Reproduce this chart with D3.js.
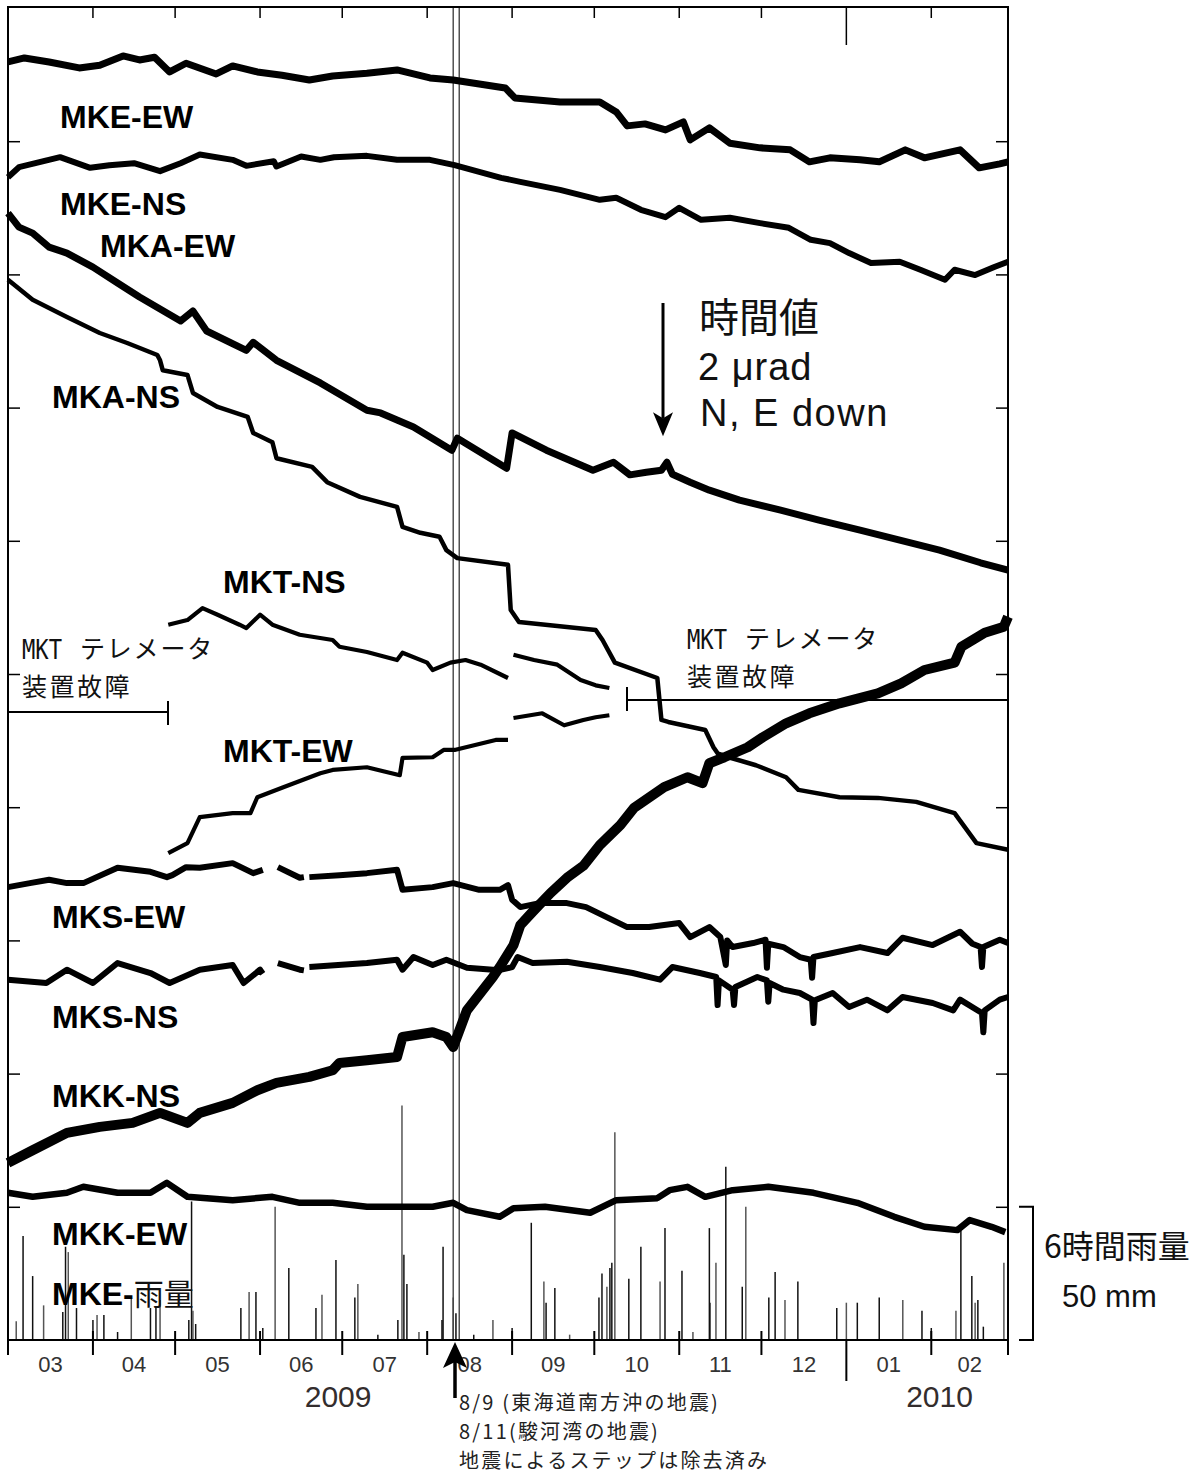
<!doctype html>
<html lang="ja">
<head>
  <meta charset="utf-8">
  <title>傾斜計 時間値 2009-2010</title>
  <script src="https://d3js.org/d3.v7.min.js"></script>
  <style>
    body { margin: 0px; background: #ffffff; }
    text { font-family: "Liberation Sans", Arial, sans-serif; fill: #111; }
    .jp { font-family: "Noto Sans CJK JP", sans-serif; }
    .lbl { font-weight: bold; font-size: 32px; fill: #000; }
    .trace { fill: none; stroke: #000; stroke-linejoin: round; stroke-linecap: butt; }
  </style>
</head>
<body>
<div id="chart"></div>
<script>
// days since 2009-03-01, tilt in micro-radian (figure offsets included)
const mkeEW = [[0,19.19],[6,19.25],[15,19.19],[26,19.10],[33.5,19.14],[42,19.28],[48,19.22],[53.5,19.26],[59,19.04],[65,19.17],[76,19.01],[82,19.13],[91,19.04],[100,18.99],[110,18.92],[118.5,18.98],[131,19.02],[142,19.07],[154,18.95],[162.5,18.92],[172,18.86],[181.5,18.80],[185,18.65],[201.5,18.59],[216,18.59],[222,18.44],[226,18.23],[232.5,18.26],[240,18.17],[246.5,18.29],[249,18.02],[256,18.20],[263.5,17.97],[274.5,17.90],[285.5,17.87],[292.5,17.69],[300,17.75],[311,17.72],[318,17.69],[327.5,17.87],[334.5,17.75],[347.5,17.87],[354.5,17.60],[362,17.66],[365,17.69]];
const mkeNS = [[0,17.46],[4,17.61],[19,17.76],[30,17.60],[37,17.64],[46,17.67],[55.5,17.55],[63,17.67],[70,17.80],[82,17.72],[87,17.63],[97,17.70],[98,17.62],[107,17.77],[114,17.72],[119,17.76],[131,17.78],[142,17.72],[154,17.72],[163,17.64],[172,17.54],[180,17.45],[187,17.39],[201.5,17.27],[216,17.12],[222,17.15],[231,16.97],[240,16.86],[245,17.00],[253,16.82],[263.5,16.85],[274.5,16.77],[285,16.70],[293,16.52],[300,16.47],[307,16.32],[315,16.17],[325.5,16.19],[333,16.07],[342,15.92],[345.5,16.07],[353,15.99],[360,16.11],[365,16.19]];
const mkaEW = [[0,16.92],[4,16.71],[9,16.62],[15,16.41],[21.5,16.32],[31,16.11],[40,15.87],[48,15.66],[63,15.30],[67.5,15.45],[72.5,15.15],[87,14.86],[89.5,14.98],[98,14.71],[114,14.37],[131,13.96],[136,13.92],[148,13.71],[162,13.36],[164,13.54],[182,13.09],[184,13.62],[196.5,13.36],[205,13.21],[213.5,13.06],[221,13.18],[227,12.99],[233,13.03],[238.5,13.06],[240.5,13.18],[242.5,13.00],[249,12.88],[256,12.76],[267,12.61],[282,12.46],[296,12.31],[311,12.16],[325.5,12.01],[340,11.86],[355,11.67],[365,11.56]];
const mkaNS = [[0,15.92],[9,15.62],[21.5,15.36],[33.5,15.12],[43.5,14.97],[54.5,14.79],[55.5,14.71],[56.5,14.56],[65.5,14.49],[67.5,14.22],[76.5,14.01],[87.5,13.86],[89.5,13.62],[96.5,13.48],[98,13.24],[111,13.11],[116.5,12.88],[128.5,12.66],[142,12.51],[144,12.21],[150.5,12.12],[157.5,12.06],[160,11.86],[164,11.74],[182.5,11.64],[183.5,10.96],[186.5,10.78],[214.5,10.66],[217,10.51],[221.5,10.17],[237,9.94],[238.5,9.31],[241,9.28],[254.5,9.16],[257.5,8.90],[259,8.81],[263,8.75],[273,8.63],[284,8.45],[288.5,8.26],[303.5,8.15],[317.5,8.14],[331.5,8.08],[345.5,7.91],[353.5,7.46],[365,7.36]];
const mktNS = [[58.5,10.74],[65.5,10.81],[71,10.99],[76.5,10.89],[84.5,10.74],[87,10.69],[92,10.89],[96.5,10.74],[106.5,10.59],[118.5,10.51],[121,10.41],[131,10.33],[142,10.21],[144,10.32],[153,10.17],[155,10.06],[161.5,10.17],[167,10.21],[172.5,10.14],[182.5,9.94],[183.5,null],[184.5,10.29],[192,10.21],[200.5,10.14],[209,9.91],[214.5,9.83],[219.5,9.79]];
const mktEW = [[58.5,7.31],[65.5,7.46],[70,7.85],[82,7.91],[88.5,7.91],[91,8.15],[100.5,8.30],[114,8.51],[118.5,8.56],[131,8.60],[143,8.48],[144,8.74],[155,8.75],[159,8.86],[163,8.86],[178,9.01],[182.5,9.01],[183.5,null],[184.5,9.34],[195,9.41],[203,9.23],[210,9.31],[214.5,9.35],[219.5,9.38]];
const mksEW = [[0,6.80],[8,6.86],[15,6.91],[21.5,6.86],[27.5,6.86],[40,7.09],[52,7.03],[58,6.95],[60,6.98],[65,7.10],[70,7.09],[82,7.16],[89.5,7.01],[93,7.06],[93.5,null],[98.5,7.10],[106.5,6.94],[108,6.95],[108.5,null],[110,6.95],[121,6.98],[131,7.01],[142,7.06],[144,6.76],[155,6.80],[162.5,6.86],[172,6.76],[179.5,6.76],[182.5,6.83],[184,6.61],[187,6.50],[194,6.56],[204,6.56],[211,6.50],[218.5,6.35],[226,6.20],[234,6.20],[245,6.26],[249,6.05],[256,6.20],[260,6.05],[262,5.63],[262.5,6.00],[264.5,5.90],[272,5.96],[276.5,6.01],[277,5.59],[277.5,5.95],[283,5.90],[289,5.75],[293,5.71],[293.5,5.44],[294,5.75],[301,5.81],[311,5.90],[321,5.81],[326.5,6.04],[337.5,5.93],[347.5,6.13],[352,5.95],[355,5.90],[355.5,5.60],[356,5.90],[362,6.01],[365,5.96]];
const mksNS = [[0,5.41],[14,5.36],[21.5,5.56],[31,5.36],[40,5.66],[52,5.51],[59,5.36],[70,5.56],[82,5.63],[86,5.36],[92,5.56],[93,5.50],[93.5,null],[98.5,5.66],[106.5,5.56],[108,5.55],[108.5,null],[110,5.60],[131,5.66],[142,5.71],[144,5.56],[148,5.75],[155,5.63],[160,5.71],[167.5,5.59],[177,5.56],[180,5.56],[184,5.60],[186,5.75],[191.5,5.66],[204,5.68],[216,5.60],[228,5.51],[238,5.41],[242.5,5.60],[252.5,5.51],[258.5,5.45],[259,5.03],[259.5,5.40],[264.5,5.26],[265,5.03],[265.5,5.30],[273.5,5.45],[277,5.40],[277.5,5.08],[278,5.36],[283,5.26],[289,5.21],[293.5,5.11],[294,4.76],[294.5,5.10],[301,5.21],[307,5.00],[313.5,5.11],[321,4.95],[326.5,5.15],[337.5,5.06],[345,4.95],[347.5,5.11],[355.5,4.91],[356,4.62],[356.5,4.95],[362,5.11],[365,5.15]];
const mkkNS = [[0,2.66],[9,2.85],[21.5,3.11],[33.5,3.20],[45.5,3.26],[55.5,3.41],[65.5,3.26],[70,3.41],[82,3.56],[91,3.75],[98,3.86],[110,3.95],[118.5,4.05],[121,4.16],[131,4.20],[142,4.25],[144,4.55],[155,4.62],[160,4.55],[162.5,4.40],[167.5,4.95],[177,5.45],[179.5,5.60],[184.5,5.93],[187,6.23],[191.5,6.43],[198,6.71],[204,6.94],[210,7.12],[216,7.43],[223.5,7.73],[228.5,7.99],[239.5,8.30],[248,8.45],[253.5,8.36],[256,8.66],[261.5,8.75],[270,8.90],[275.5,9.05],[284,9.26],[292.5,9.41],[303.5,9.56],[317.5,9.71],[326,9.86],[334.5,10.06],[345.5,10.17],[348,10.41],[356.5,10.62],[363.5,10.71],[365,10.86]];
const mkkEW = [[0,2.21],[9,2.15],[21.5,2.21],[27.5,2.30],[40,2.21],[52,2.21],[58,2.36],[65.5,2.15],[82,2.10],[96.5,2.15],[106.5,2.06],[118.5,2.06],[131,2.00],[143,2.00],[155,2.00],[162.5,2.06],[167.5,1.95],[179.5,1.85],[184.5,1.98],[196,2.00],[212.5,1.91],[222,2.10],[237,2.13],[241.5,2.25],[248,2.30],[254.5,2.15],[264.5,2.25],[277.5,2.30],[294,2.21],[310,2.06],[323.5,1.85],[334.5,1.70],[346.5,1.65],[351,1.80],[359,1.70],[364,1.62]];
// 6-hour rainfall at MKE, [day, mm]
const rain = [[0,2],[3,7],[5.5,39],[9,24],[13,13],[20,10.5],[21,35],[22,33],[25,12],[31,7.5],[32.5,9.4],[35,9.4],[40,3],[45,16],[52,12],[54,12],[55.5,15],[66,7.5],[67,52],[67.5,11],[68.5,6],[85,12],[88,18],[90.5,18],[93,4.5],[97.5,50],[102.5,27],[112.4,12],[114.6,17],[119.7,30],[126.6,16],[127.7,21],[135,2],[142.3,7.5],[143.8,88],[144.5,32],[145.6,21],[150,3],[158.4,7.5],[158.8,35],[162.5,16],[163.5,10],[170,2],[177,7.5],[184,4.5],[191,44],[195.6,22],[196.4,14],[199.6,19.5],[205,2],[215.7,16],[216.8,25],[218.6,20],[219.7,27],[220.4,29],[221.5,78],[226.6,23],[231,35],[238,22],[239.8,42],[246,26],[250,3],[256,42],[256.2,14],[258.4,29],[262,65],[268,20],[269.3,50],[277.7,16],[280,25.5],[283.6,15],[288.3,22],[302.5,12],[306,14],[310,14],[318,16],[326.6,15],[333.6,11],[337,4.5],[346,11],[347.8,41],[351.8,24],[353,14],[354,15],[356,5],[363.5,29]];

const monthLabels = ["03","04","05","06","07","08","09","10","11","12","01","02"];
const yearLabels = ["2009", "2010"];
const tiltTicks = [2,4,6,8,10,12,14,16,18];
const quakeDays = [162.5, 164.7];

const series = [
  {name: "MKE-EW", data: mkeEW}, {name: "MKE-NS", data: mkeNS},
  {name: "MKA-EW", data: mkaEW}, {name: "MKA-NS", data: mkaNS},
  {name: "MKT-NS", data: mktNS}, {name: "MKT-EW", data: mktEW},
  {name: "MKS-EW", data: mksEW}, {name: "MKS-NS", data: mksNS},
  {name: "MKK-NS", data: mkkNS}, {name: "MKK-EW", data: mkkEW}
];

// layout
const W = 1204, H = 1474;
const xL = 8, xR = 1008, yT = 7, yB = 1340;
const strokeW = {"MKE-EW": 7, "MKE-NS": 6, "MKA-EW": 7, "MKA-NS": 4.5, "MKT-NS": 4.2, "MKT-EW": 4.2,
                 "MKS-EW": 6, "MKS-NS": 6, "MKK-NS": 10, "MKK-EW": 6.5};
const labelAt = {"MKE-EW": [60,128], "MKE-NS": [60,215], "MKA-EW": [100,257], "MKA-NS": [52,408],
                 "MKT-NS": [223,593], "MKT-EW": [223,762], "MKS-EW": [52,928], "MKS-NS": [52,1028],
                 "MKK-NS": [52,1107], "MKK-EW": [52,1245]};
const yearAt = [120.5, 340];

const t0 = Date.UTC(2009, 2, 1);
const toDate = d => new Date(t0 + d * 864e5);

var x = d3.scaleUtc()
    .domain([toDate(0), toDate(365)])
    .range([xL, xR]);

var y = d3.scaleLinear()
    .domain([0, 20])
    .range([yB, yT + 1]);

var yRain = d3.scaleLinear()
    .domain([0, 50])
    .range([yB, yB - (y(0) - y(2))]);

var svg = d3.select('#chart').append('svg')
    .attr('width', W)
    .attr('height', H)
    .style('background', '#fff');

// rain bars
svg.append('g')
    .selectAll('line')
    .data(rain)
    .enter()
    .append('line')
        .attr('x1', d => x(toDate(d[0])))
        .attr('x2', d => x(toDate(d[0])))
        .attr('y1', yRain(0))
        .attr('y2', d => yRain(d[1]))
        .attr('stroke', (d, i) => i % 3 == 1 ? '#555' : '#111')
        .attr('stroke-width', 1.5);

// earthquake double line
svg.append('g')
    .selectAll('line')
    .data(quakeDays)
    .enter()
    .append('line')
        .attr('x1', d => x(toDate(d)))
        .attr('x2', d => x(toDate(d)))
        .attr('y1', yT)
        .attr('y2', yB)
        .attr('stroke', '#444')
        .attr('stroke-width', 1.4);

// tilt traces
var line = d3.line()
    .defined(d => d[1] != null)
    .x(d => x(toDate(d[0])))
    .y(d => y(d[1]));

svg.append('g')
    .selectAll('path')
    .data(series)
    .enter()
    .append('path')
        .attr('class', 'trace')
        .attr('d', d => line(d.data))
        .attr('stroke-width', d => strokeW[d.name]);

// frame
svg.append('path')
    .attr('d', `M${xL},${yB}V${yT}H${xR}V${yB}H${xL}`)
    .attr('stroke', '#000')
    .attr('stroke-width', 2)
    .attr('fill', 'none');

// tilt ticks, left and right, pointing inward
svg.append('g')
    .attr('transform', `translate(${xL},0)`)
    .call(d3.axisRight(y).tickValues(tiltTicks).tickSize(12).tickFormat(''))
    .call(g => g.select('.domain').remove());
svg.append('g')
    .attr('transform', `translate(${xR},0)`)
    .call(d3.axisLeft(y).tickValues(tiltTicks).tickSize(12).tickFormat(''))
    .call(g => g.select('.domain').remove());
svg.selectAll('.tick line').attr('stroke', '#000').attr('stroke-width', 1.5);

// month ticks top and bottom
var months = d3.utcMonth.range(toDate(0), toDate(366));
var isJan = d => d.getUTCMonth() == 0;

svg.append('g')
    .selectAll('line')
    .data(months)
    .enter()
    .append('line')
        .attr('x1', d => x(d)).attr('x2', d => x(d))
        .attr('y1', yT)
        .attr('y2', d => isJan(d) ? yT + 38 : yT + 11)
        .attr('stroke', '#000').attr('stroke-width', 1.5);

svg.append('g')
    .selectAll('line')
    .data(months)
    .enter()
    .append('line')
        .attr('x1', d => x(d)).attr('x2', d => x(d))
        .attr('y1', d => isJan(d) ? yB : yB - 9)
        .attr('y2', d => isJan(d) ? yB + 41 : yB + 15)
        .attr('stroke', '#000').attr('stroke-width', 2);

svg.append('g')
    .selectAll('text')
    .data(monthLabels)
    .enter()
    .append('text')
        .attr('x', (d, i) => (x(months[i]) + x(months[i + 1])) / 2)
        .attr('y', 1372)
        .attr('text-anchor', 'middle')
        .style('font-size', '22px')
        .style('fill', '#333')
        .text(d => d);

svg.append('g')
    .selectAll('text')
    .data(yearLabels)
    .enter()
    .append('text')
        .attr('x', (d, i) => x(toDate(yearAt[i])))
        .attr('y', 1407)
        .attr('text-anchor', 'middle')
        .style('font-size', '30px')
        .style('fill', '#332d2d')
        .text(d => d);

// station labels
svg.append('g')
    .selectAll('text')
    .data(series)
    .enter()
    .append('text')
        .attr('class', 'lbl')
        .attr('x', d => labelAt[d.name][0])
        .attr('y', d => labelAt[d.name][1])
        .text(d => d.name);

var rainLbl = svg.append('text').attr('x', 52).attr('y', 1305);
rainLbl.append('tspan').attr('class', 'lbl').text('MKE-');
rainLbl.append('tspan').attr('class', 'jp').style('font-size', '30px').text('雨量');

// scale arrow: 2 micro-radian
var ax = 663, ay = 303, alen = y(0) - y(2);
svg.append('line')
    .attr('x1', ax).attr('x2', ax)
    .attr('y1', ay).attr('y2', ay + alen - 18)
    .attr('stroke', '#000').attr('stroke-width', 3);
svg.append('path')
    .attr('d', `M${ax},${ay + alen}L${ax - 10},${ay + alen - 24}L${ax},${ay + alen - 18}L${ax + 10},${ay + alen - 24}Z`)
    .attr('fill', '#000');

var scaleTxt = svg.append('text');
scaleTxt.append('tspan').attr('class', 'jp').attr('x', 699).attr('y', 332)
    .style('font-size', '40px').text('時間値');
scaleTxt.append('tspan').attr('x', 698).attr('y', 380)
    .style('font-size', '38px').style('letter-spacing', '1px').text('2 μrad');
scaleTxt.append('tspan').attr('x', 700).attr('y', 426)
    .style('font-size', '38px').style('letter-spacing', '1.5px').text('N, E down');

// telemetry outage notes
function outage(tx, ty1, ty2) {
    var t = svg.append('text');
    t.append('tspan').attr('x', tx).attr('y', ty1)
        .attr('textLength', 40).attr('lengthAdjust', 'spacingAndGlyphs')
        .style('font-family', '"DejaVu Sans Mono", monospace')
        .style('font-size', '27px')
        .text('MKT');
    t.append('tspan').attr('class', 'jp').attr('x', tx + 58).attr('y', ty1 - 1)
        .style('font-size', '25px').style('letter-spacing', '1.8px').text('テレメータ');
    t.append('tspan').attr('class', 'jp').attr('x', tx).attr('y', ty2)
        .style('font-size', '25px').style('letter-spacing', '2.5px').text('装置故障');
}
outage(22, 659, 696);
outage(687, 649, 686);

var gap = svg.append('g').attr('stroke', '#000').attr('stroke-width', 2);
gap.append('line').attr('x1', xL).attr('x2', 168).attr('y1', 712).attr('y2', 712);
gap.append('line').attr('x1', 168).attr('x2', 168).attr('y1', 701).attr('y2', 725);
gap.append('line').attr('x1', 627).attr('x2', xR).attr('y1', 700).attr('y2', 700);
gap.append('line').attr('x1', 627).attr('x2', 627).attr('y1', 687).attr('y2', 711);

// rain scale bracket: 50 mm
svg.append('path')
    .attr('d', `M1019,${yRain(50)}H1033V${yRain(0)}H1019`)
    .attr('stroke', '#000').attr('stroke-width', 2).attr('fill', 'none');
var rainScale = svg.append('text');
rainScale.append('tspan').attr('class', 'jp').attr('x', 1044).attr('y', 1258)
    .style('font-size', '32px').text('6時間雨量');
rainScale.append('tspan').attr('x', 1062).attr('y', 1307)
    .style('font-size', '31px').text('50 mm');

// earthquake arrow and notes
var qx = 455;
svg.append('line').attr('x1', qx).attr('x2', qx).attr('y1', 1362).attr('y2', 1398)
    .attr('stroke', '#000').attr('stroke-width', 3.5);
svg.append('path')
    .attr('d', `M${qx},${yB + 2}L${qx - 12},${yB + 28}L${qx},${yB + 22}L${qx + 12},${yB + 28}Z`)
    .attr('fill', '#000');

var notes = ['8/9 (東海道南方沖の地震)', '8/11(駿河湾の地震)', '地震によるステップは除去済み'];
svg.append('text')
    .attr('class', 'jp')
    .style('font-size', '20px')
    .style('letter-spacing', '2.2px')
    .style('fill', '#222')
    .selectAll('tspan')
    .data(notes)
    .enter()
    .append('tspan')
        .attr('x', 459)
        .attr('y', (d, i) => 1410 + i * 29.2)
        .text(d => d);
</script>
</body>
</html>
